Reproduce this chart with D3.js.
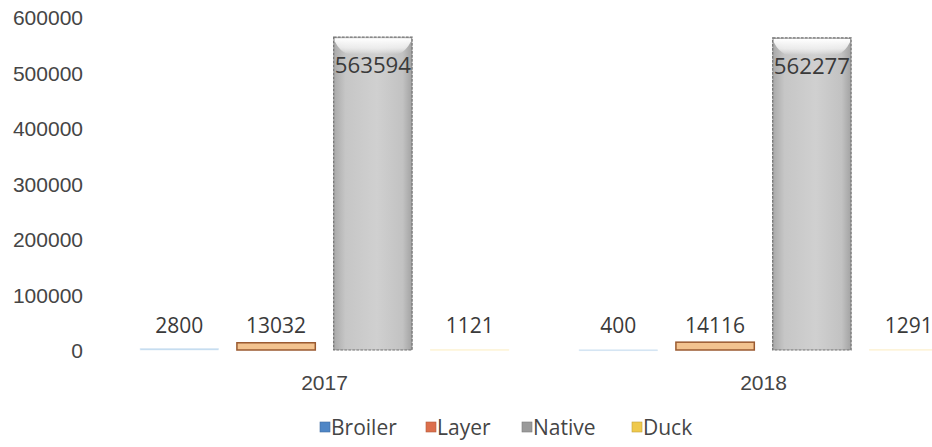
<!DOCTYPE html>
<html>
<head>
<meta charset="utf-8">
<script src="https://cdn.jsdelivr.net/npm/d3@7"></script>
<style>
  html, body { margin: 0; padding: 0; background: #fff; }
  svg { display: block; font-family: "Open Sans", "Noto Sans", sans-serif; }
  .tick text { fill: #454545; font-size: 21px; }
  .val { fill: #3a3a3a; font-size: 21px; text-anchor: middle; }
  .leg { fill: #454545; font-size: 21px; }
</style>
</head>
<body>
<div id="chart"></div>
<script>
// Poultry counts per year
const years = ['2017', '2018'];
const series = ['Broiler', 'Layer', 'Native', 'Duck'];
const broiler = [2800, 400];
const layer = [13032, 14116];
const native = [563594, 562277];
const duck = [1121, 1291];
const yTicks = [0, 100000, 200000, 300000, 400000, 500000, 600000];

const FILL = { Broiler: '#bcd7ee', Layer: '#f3c38f', Native: '#c4c4c4', Duck: '#fbeec6' };
const EDGE = { Broiler: '#dceaf6', Layer: '#9a5a30', Native: '#6f6f6f', Duck: '#fdf5dd' };
const KEY = { Broiler: '#4f86c6', Layer: '#dc6f4c', Native: '#9a9a9a', Duck: '#efc94c' };

const W = 932, H = 447;
const svg = d3.select('#chart').append('svg').attr('width', W).attr('height', H);
const defs = svg.append('defs');

// horizontal shading for the big grey bars, darker at the sides
const g = defs.append('linearGradient').attr('id', 'native-grad').attr('x1', '0%').attr('x2', '100%');
g.append('stop').attr('offset', '0%').attr('stop-color', '#a9a9a9');
g.append('stop').attr('offset', '15%').attr('stop-color', '#c6c6c6');
g.append('stop').attr('offset', '55%').attr('stop-color', '#d0d0d0');
g.append('stop').attr('offset', '88%').attr('stop-color', '#c2c2c2');
g.append('stop').attr('offset', '100%').attr('stop-color', '#a2a2a2');
const gv = defs.append('linearGradient').attr('id', 'bevel-grad').attr('x1', '0').attr('x2', '0').attr('y1', '0').attr('y2', '1');
gv.append('stop').attr('offset', '0%').attr('stop-color', '#ffffff').attr('stop-opacity', 1);
gv.append('stop').attr('offset', '60%').attr('stop-color', '#f4f4f4').attr('stop-opacity', 0.8);
gv.append('stop').attr('offset', '100%').attr('stop-color', '#ffffff').attr('stop-opacity', 0);

const y = d3.scaleLinear().domain([0, 600000]).range([350, 17]);
const x0 = d3.scaleBand().domain(years).range([105, 983]).paddingInner(0.16).paddingOuter(0.08);
const x1 = d3.scaleBand().domain(series).range([0, x0.bandwidth()]).paddingInner(0.19);

const rows = years.map((yr, i) => ({
  year: yr,
  values: [
    { key: 'Broiler', value: broiler[i] },
    { key: 'Layer', value: layer[i] },
    { key: 'Native', value: native[i] },
    { key: 'Duck', value: duck[i] },
  ],
}));

// y axis: labels only
const yAxis = svg.append('g').attr('transform', 'translate(83,0)')
  .call(d3.axisLeft(y).tickValues(yTicks).tickSize(0).tickPadding(0).tickFormat(d3.format('d')));
yAxis.select('.domain').remove();
yAxis.selectAll('text').attr('dy', '0.38em');

// x axis: year labels
const xAxis = svg.append('g').attr('transform', 'translate(0,' + (y(0) + 13) + ')')
  .call(d3.axisBottom(x0).tickSize(0).tickPadding(8));
xAxis.select('.domain').remove();
xAxis.selectAll('text').attr('dy', '0.9em');

const groups = svg.selectAll('.grp').data(rows).enter().append('g')
  .attr('class', 'grp')
  .attr('transform', d => 'translate(' + x0(d.year) + ',0)');

groups.selectAll('rect.bar').data(d => d.values).enter().append('rect')
  .attr('class', 'bar')
  .attr('x', d => x1(d.key))
  .attr('width', x1.bandwidth())
  .attr('y', d => y(d.value))
  .attr('height', d => Math.max(1, y(0) - y(d.value)))
  .attr('fill', d => d.key === 'Native' ? 'url(#native-grad)' : FILL[d.key])
  .attr('stroke', d => EDGE[d.key])
  .attr('stroke-width', d => d.key === 'Native' ? 1.2 : (d.key === 'Layer' ? 1.5 : 0.6))
  .attr('stroke-dasharray', d => d.key === 'Native' ? '3,1' : null);

// top bevel on the tall bars
groups.selectAll('path.bevel').data(d => d.values.filter(v => v.key === 'Native')).enter().append('path')
  .attr('class', 'bevel')
  .attr('fill', 'url(#bevel-grad)')
  .attr('d', d => {
    const a = x1(d.key), b = a + x1.bandwidth(), t = y(d.value);
    return `M${a + 1},${t + 1} L${b - 1},${t + 1} L${b - 1},${t + 4} Q${b - 6},${t + 14} ${b - 14},${t + 17} L${a + 14},${t + 17} Q${a + 6},${t + 14} ${a + 1},${t + 4} Z`;
  });

// value labels: outside end (common baseline) for small bars, inside end for the grey ones
groups.selectAll('text.val').data(d => d.values).enter().append('text')
  .attr('class', 'val')
  .attr('x', d => x1(d.key) + x1.bandwidth() / 2)
  .attr('y', d => d.key === 'Native' ? y(d.value) + 36 : y(0) - 17)
  .attr('textLength', d => d.key === 'Native' ? x1.bandwidth() - 2 : null)
  .attr('lengthAdjust', 'spacingAndGlyphs')
  .text(d => d.value);

// legend
const legX = [320, 426, 522, 632];
const leg = svg.append('g').attr('transform', 'translate(0,427)');
series.forEach((s, i) => {
  const it = leg.append('g').attr('transform', 'translate(' + legX[i] + ',0)');
  it.append('rect').attr('x', 0).attr('y', -5).attr('width', 10).attr('height', 10)
    .attr('fill', KEY[s]).attr('stroke', d3.color(KEY[s]).darker(0.6)).attr('stroke-width', 0.6);
  it.append('text').attr('class', 'leg').attr('x', 11).attr('dy', '0.36em').text(s);
});
</script>
</body>
</html>
